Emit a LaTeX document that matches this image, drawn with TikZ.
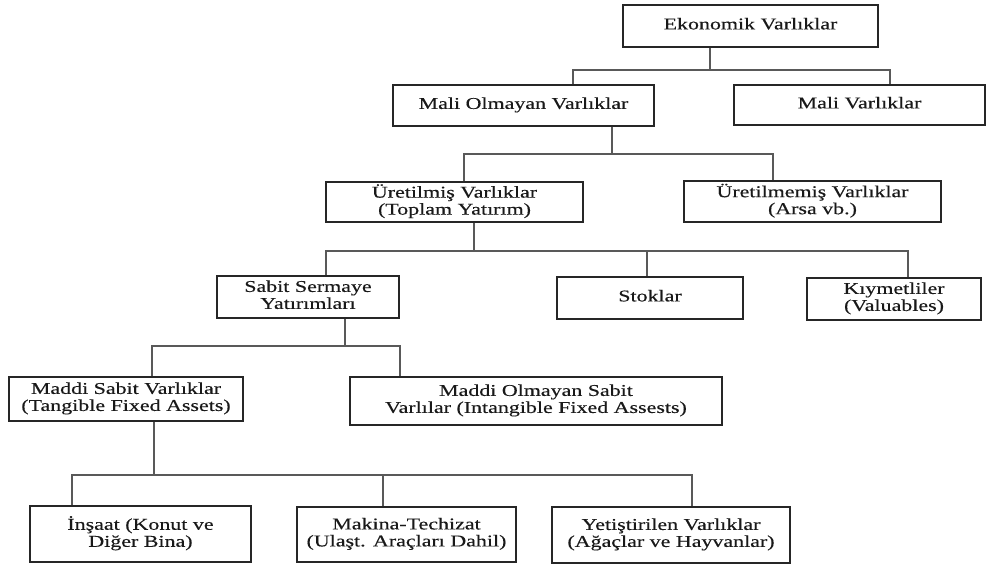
\documentclass[tikz,border=0pt]{standalone}
\usepackage{fontspec}
\usepackage{graphicx}
\setmainfont{Liberation Serif}[FakeBold=0.3]
\newcommand{\wtxt}[1]{\scalebox{1.33}[1]{\begin{tabular}{@{}c@{}}#1\end{tabular}}}
\begin{document}
\begin{tikzpicture}[x=1pt,y=-1pt,
  box/.style={draw=black!85,line width=1.3pt,inner sep=0pt,align=center,
    font=\fontsize{16.5}{17}\selectfont,text=black!90},
  link/.style={draw=black!65,line width=1.2pt}]
\useasboundingbox (0,0) rectangle (987,564);
% boxes
\node[box,minimum width=255pt,minimum height=42pt] (eko) at (750.5,26) {\wtxt{Ekonomik Varlıklar}};
\node[box,minimum width=261pt,minimum height=41pt] (malio) at (523.5,105.5) {\wtxt{Mali Olmayan Varlıklar}};
\node[box,minimum width=251pt,minimum height=40pt] (mali) at (859.5,105) {\wtxt{Mali Varlıklar}};
\node[box,minimum width=257pt,minimum height=40pt] (uret) at (454.5,202) {\wtxt{Üretilmiş Varlıklar\\(Toplam Yatırım)}};
\node[box,minimum width=257pt,minimum height=41pt] (uretm) at (812.5,201.5) {\wtxt{Üretilmemiş Varlıklar\\(Arsa vb.)}};
\node[box,minimum width=182pt,minimum height=42pt] (sabit) at (308,297) {\wtxt{Sabit Sermaye\\ Yatırımları}};
\node[box,minimum width=186pt,minimum height=42pt] (stok) at (650,298) {\wtxt{Stoklar}};
\node[box,minimum width=174pt,minimum height=42pt] (kiy) at (894,299) {\wtxt{Kıymetliler\\(Valuables)}};
\node[box,minimum width=234pt,minimum height=44pt] (maddi) at (126,399) {\wtxt{Maddi Sabit Varlıklar\\(Tangible Fixed Assets)}};
\node[box,minimum width=372pt,minimum height=48pt] (maddio) at (536,401) {\wtxt{Maddi Olmayan Sabit\\Varlılar (Intangible Fixed Assests)}};
\node[box,minimum width=221pt,minimum height=56pt] (insaat) at (140.5,534) {\wtxt{İnşaat (Konut ve\\Diğer Bina)}};
\node[box,minimum width=219pt,minimum height=55pt] (makina) at (406.5,534.5) {\wtxt{Makina-Techizat\\(Ulaşt. Araçları Dahil)}};
\node[box,minimum width=238pt,minimum height=56pt] (yetis) at (671,535) {\wtxt{Yetiştirilen Varlıklar\\(Ağaçlar ve Hayvanlar)}};
% junction coordinates
\coordinate (j1) at (710,70);
\coordinate (a1) at (573,70);
\coordinate (a2) at (890,70);
\coordinate (j2) at (612,154);
\coordinate (b1) at (464,154);
\coordinate (b2) at (773,154);
\coordinate (j3) at (474,251);
\coordinate (c1) at (326,251);
\coordinate (c2) at (647,251);
\coordinate (c3) at (908,251);
\coordinate (j4) at (345,346);
\coordinate (d1) at (152,346);
\coordinate (d2) at (400,346);
\coordinate (j5) at (154,475);
\coordinate (e1) at (72,475);
\coordinate (e2) at (383,475);
\coordinate (e3) at (692,475);
% connectors
\draw[link] (eko.south -| j1) -- (j1);
\draw[link] (malio.north -| a1) -- (a1) -- (a2) -- (mali.north -| a2);
\draw[link] (malio.south -| j2) -- (j2);
\draw[link] (uret.north -| b1) -- (b1) -- (b2) -- (uretm.north -| b2);
\draw[link] (uret.south -| j3) -- (j3);
\draw[link] (sabit.north -| c1) -- (c1) -- (c3) -- (kiy.north -| c3);
\draw[link] (c2) -- (stok.north -| c2);
\draw[link] (sabit.south -| j4) -- (j4);
\draw[link] (maddi.north -| d1) -- (d1) -- (d2) -- (maddio.north -| d2);
\draw[link] (maddi.south -| j5) -- (j5);
\draw[link] (insaat.north -| e1) -- (e1) -- (e3) -- (yetis.north -| e3);
\draw[link] (e2) -- (makina.north -| e2);
\end{tikzpicture}
\end{document}
